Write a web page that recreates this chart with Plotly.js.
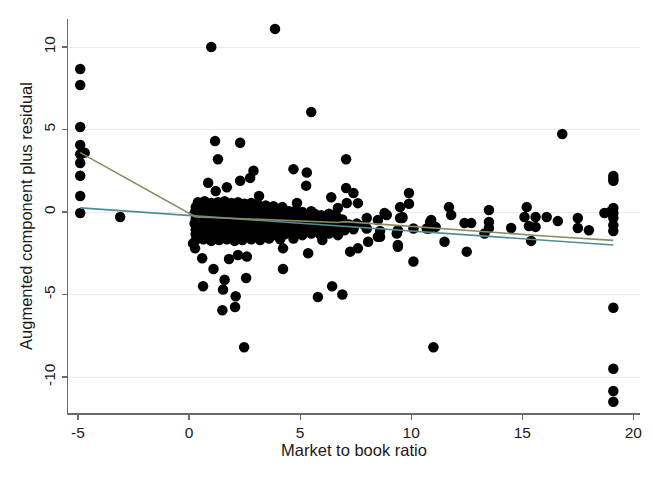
<!DOCTYPE html>
<html>
<head>
<meta charset="utf-8">
<script src="https://cdn.plot.ly/plotly-3.0.1.min.js"></script>
<style>
  html, body { margin: 0; padding: 0; background: #ffffff; }
  #chart { width: 653px; height: 480px; }
</style>
</head>
<body>
<div id="chart"></div>
<script>
// ---- Data ----
// Left column (negative market-to-book observations)
const leftX = [-4.9, -4.9, -4.9, -4.9, -4.9, -4.7, -4.9, -4.9, -4.9, -4.9, -3.1];
const leftY = [8.67, 7.7, 5.15, 4.06, 3.5, 3.6, 2.97, 2.2, 0.97, -0.06, -0.3];

// Right column (capped market-to-book observations)
const rightX = [19.1, 19.1, 19.1, 19.1, 19.1, 19.1, 19.1, 19.1, 19.1, 19.1, 19.1, 19.1, 18.95];
const rightY = [2.18, 2.0, 1.9, 0.24, -0.06, -0.36, -0.8, -1.15, -5.8, -9.5, -10.85, -11.5, 0.0];

// Scattered points outside the dense cluster
const outX = [1.0, 3.87, 5.5, 16.8, 1.17, 2.3, 1.3, 7.07, 2.9, 2.75, 4.7, 2.3, 0.86, 1.7, 5.27,
  7.07, 7.4, 1.2, 3.15, 6.4, 7.6, 4.86, 6.7, 7.1, 0.18, 0.59, 1.8, 2.2, 2.6, 1.1, 4.23, 4.23,
  5.36, 1.6, 2.57, 0.63, 1.53, 6.44, 2.1, 5.8, 6.9, 1.5, 2.07, 2.48, 7.6, 7.25, 8.06, 8.6, 9.4,
  6.0, 0.27, 6.8, 8.0, 8.5, 8.9, 9.5, 9.35, 10.1, 10.7, 9.9, 9.9, 9.5, 8.8, 9.6, 10.85, 8.5,
  9.4, 9.4, 10.1, 10.9, 10.8, 11.1, 11.0, 11.5, 11.7, 11.8, 12.4, 12.7, 12.5, 13.3, 13.5, 13.5,
  13.5, 14.5, 15.2, 15.1, 15.3, 15.6, 15.6, 15.4, 16.1, 16.6, 17.5, 17.5, 18.0, 18.7, 9.6, 5.3];
const outY = [10.0, 11.1, 6.06, 4.73, 4.3, 4.2, 3.2, 3.2, 2.5, 2.07, 2.6, 1.9, 1.77, 1.5, 1.6,
  1.45, 1.15, 1.27, 0.97, 0.9, 0.54, 0.55, 0.24, 0.55, -1.9, -2.8, -2.85, -2.6, -2.7, -3.45, -3.45, -2.2,
  -2.5, -4.1, -4.0, -4.5, -4.7, -4.5, -5.1, -5.15, -5.0, -5.95, -5.76, -8.2, -2.2, -2.4, -1.8, -1.5, -2.1,
  -1.7, -2.2, -0.48, -0.36, -0.48, -0.18, -0.36, -1.3, -1.0, -1.0, 1.15, 0.5, 0.3, -0.06, -0.3, -0.6, -1.5,
  -1.1, -2.0, -3.0, -0.48, -1.0, -0.9, -8.2, -1.8, 0.3, -0.18, -0.67, -0.67, -2.4, -1.3, 0.12, -0.6,
  -0.97, -0.97, 0.3, -0.3, -0.85, -0.9, -0.3, -1.75, -0.3, -0.55, -0.36, -0.97, -1.1, -0.06, -0.36, 2.4];

// Dense cluster, read row by row
const coreX = [
  0.4, 0.7, 1.0, 1.3, 1.6, 1.9, 2.2, 2.5, 2.8, 3.1, 3.45, 3.8, 4.2,
  0.3, 0.6, 0.9, 1.2, 1.5, 1.8, 2.1, 2.4, 2.7, 3.0, 3.3, 3.6, 3.9, 4.2, 4.5, 4.8, 5.1, 5.5,
  0.25, 0.55, 0.85, 1.15, 1.45, 1.75, 2.05, 2.35, 2.65, 2.95, 3.25, 3.55, 3.85, 4.15, 4.45, 4.75, 5.05, 5.35, 5.65, 5.95, 6.3, 6.6,
  0.3, 0.6, 0.9, 1.2, 1.5, 1.8, 2.1, 2.4, 2.7, 3.0, 3.3, 3.6, 3.9, 4.2, 4.5, 4.8, 5.1, 5.4, 5.7, 6.0, 6.3, 6.6, 6.9,
  0.25, 0.55, 0.85, 1.15, 1.45, 1.75, 2.05, 2.35, 2.65, 2.95, 3.25, 3.55, 3.85, 4.15, 4.45, 4.75, 5.05, 5.35, 5.65, 5.95, 6.25, 6.55, 6.85, 7.2, 7.55, 7.9,
  0.3, 0.6, 0.9, 1.2, 1.5, 1.8, 2.1, 2.4, 2.7, 3.0, 3.3, 3.6, 3.9, 4.2, 4.5, 4.8, 5.1, 5.4, 5.7, 6.0, 6.3, 6.6, 7.0, 7.4, 8.0, 8.6,
  0.3, 0.6, 0.9, 1.2, 1.5, 1.8, 2.1, 2.4, 2.7, 3.0, 3.3, 3.6, 3.9, 4.3, 4.7, 5.1, 5.5, 5.9, 6.3, 6.7,
  0.3, 0.65, 1.0, 1.35, 1.7, 2.05, 2.4, 2.8, 3.2, 3.6, 4.1, 4.7
];
const coreY = [
  0.6, 0.65, 0.55, 0.6, 0.65, 0.55, 0.6, 0.5, 0.55, 0.45, 0.4, 0.35, 0.3,
  0.3, 0.25, 0.3, 0.2, 0.3, 0.25, 0.2, 0.3, 0.2, 0.25, 0.15, 0.2, 0.1, 0.15, 0.05, 0.1, 0.0, 0.05,
  -0.05, 0.0, -0.1, -0.05, 0.0, -0.1, -0.05, -0.1, 0.0, -0.05, -0.1, -0.05, -0.15, -0.1, -0.15, -0.1, -0.2, -0.15, -0.1, -0.2, -0.1, -0.15,
  -0.4, -0.35, -0.45, -0.4, -0.35, -0.4, -0.45, -0.35, -0.4, -0.45, -0.4, -0.35, -0.45, -0.4, -0.45, -0.5, -0.4, -0.45, -0.5, -0.45, -0.4, -0.5, -0.45,
  -0.7, -0.75, -0.65, -0.7, -0.75, -0.7, -0.65, -0.75, -0.7, -0.7, -0.75, -0.65, -0.7, -0.75, -0.7, -0.65, -0.75, -0.7, -0.8, -0.7, -0.75, -0.7, -0.8, -0.75, -0.7, -0.8,
  -1.05, -1.0, -1.05, -1.1, -1.0, -1.05, -1.0, -1.1, -1.05, -1.0, -1.05, -1.1, -1.0, -1.05, -1.1, -1.0, -1.05, -1.1, -1.0, -1.05, -1.1, -1.0, -1.1, -1.05, -1.0, -1.15,
  -1.35, -1.4, -1.35, -1.3, -1.4, -1.35, -1.4, -1.3, -1.35, -1.4, -1.35, -1.3, -1.4, -1.35, -1.3, -1.4, -1.3, -1.35, -1.3, -1.4,
  -1.7, -1.65, -1.75, -1.7, -1.65, -1.75, -1.7, -1.65, -1.7, -1.6, -1.65, -1.6
];

// Smoothed (lowess) line and linear fit line
const lowessX = [-4.9, 0.3, 1.0, 2.0, 3.0, 4.0, 5.0, 6.0, 6.7, 7.0, 10.0, 13.0, 16.0, 19.1];
const lowessY = [3.6, -0.3, -0.33, -0.38, -0.43, -0.48, -0.53, -0.58, -0.63, -0.58, -0.88, -1.17, -1.45, -1.72];
const fitX = [-4.9, 19.1];
const fitY = [0.25, -2.0];

// Axis ticks
const xTicks = [-5, 0, 5, 10, 15, 20];
const yTicks = [-10, -5, 0, 5, 10];

const allX = leftX.concat(rightX, outX, coreX);
const allY = leftY.concat(rightY, outY, coreY);

const traces = [
  {
    x: allX, y: allY, type: 'scatter', mode: 'markers',
    marker: { color: '#000000', size: 10.5, line: { width: 0 } },
    hoverinfo: 'x+y', showlegend: false
  },
  {
    x: fitX, y: fitY, type: 'scatter', mode: 'lines',
    line: { color: '#4f8c97', width: 1.6 }, showlegend: false
  },
  {
    x: lowessX, y: lowessY, type: 'scatter', mode: 'lines',
    line: { color: '#8a8c60', width: 1.6 }, showlegend: false
  }
];

const fontFam = 'Liberation Sans, Arial, Helvetica, sans-serif';

const layout = {
  width: 653, height: 480,
  margin: { l: 68, r: 13, t: 19, b: 67 },
  paper_bgcolor: '#ffffff',
  plot_bgcolor: '#ffffff',
  showlegend: false,
  font: { family: fontFam, size: 15, color: '#1a1a1a' },
  xaxis: {
    range: [-5.45, 20.3],
    tickvals: xTicks,
    ticktext: xTicks.map(String),
    showgrid: false, zeroline: false,
    showline: true, linecolor: '#6a6a6a', linewidth: 1.5,
    ticks: 'outside', ticklen: 5, tickwidth: 1.2, tickcolor: '#6a6a6a',
    tickfont: { family: fontFam, size: 15.5, color: '#1a1a1a' },
    title: { text: 'Market to book ratio', font: { family: fontFam, size: 16.5, color: '#1a1a1a' }, standoff: 2 }
  },
  yaxis: {
    range: [-12.18, 11.7],
    tickvals: yTicks,
    ticktext: yTicks.map(String),
    tickangle: -90,
    showgrid: true, gridcolor: '#ececec', gridwidth: 1,
    zeroline: false,
    showline: true, linecolor: '#6a6a6a', linewidth: 1.5,
    ticks: 'outside', ticklen: 5, tickwidth: 1.2, tickcolor: '#6a6a6a',
    tickfont: { family: fontFam, size: 15.5, color: '#1a1a1a' },
    title: { text: 'Augmented component plus residual', font: { family: fontFam, size: 16.5, color: '#1a1a1a' }, standoff: 4 }
  }
};

Plotly.newPlot('chart', traces, layout, { displayModeBar: false, staticPlot: true });
</script>
</body>
</html>
